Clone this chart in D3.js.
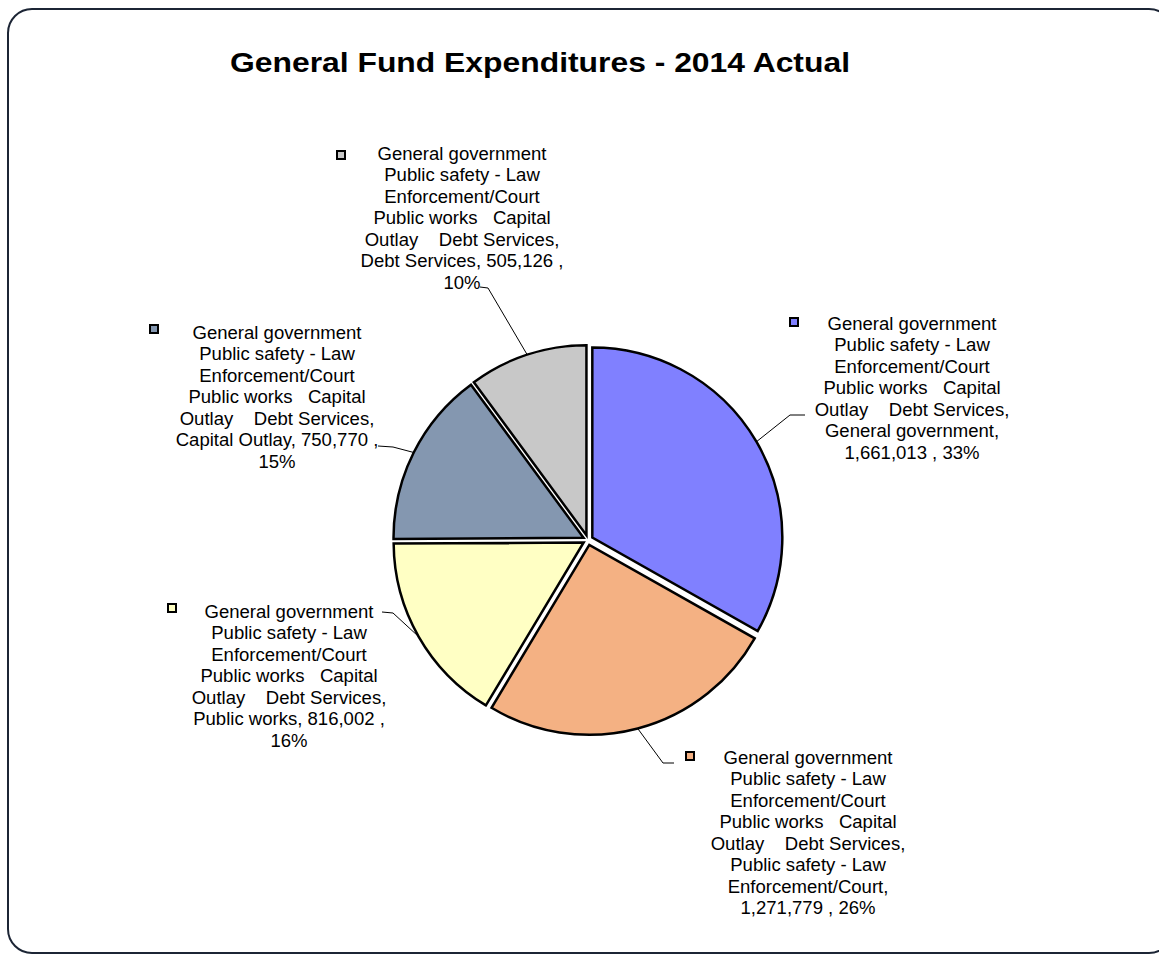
<!DOCTYPE html>
<html>
<head>
<meta charset="utf-8">
<script src="https://cdn.jsdelivr.net/npm/d3@7"></script>
<style>
  body { margin: 0; background: #fff; }
  svg text { font-family: Arial, "Liberation Sans", sans-serif; fill: #000; }
</style>
</head>
<body>
<div id="chart"></div>
<script>
// Data
const categories = ["General government", "Public safety - Law Enforcement/Court", "Public works", "Capital Outlay", "Debt Services"];
const values = [1661013, 1271779, 816002, 750770, 505126];
const percents = [33, 26, 16, 15, 10];
const colors = ["#8080ff", "#f4b183", "#ffffc4", "#8497b0", "#c8c8c8"];

// the odd "series name" that excel glued in front of every label
const seriesLines = ["General government", "Public safety - Law", "Enforcement/Court", "Public works   Capital", "Outlay    Debt Services,"];
// how each category name wraps
const nameLines = [
  ["General government,"],
  ["Public safety - Law", "Enforcement/Court,"],
  ["Public works,"],
  ["Capital Outlay,"],
  ["Debt Services,"]
];

// label layout: centre x, first baseline, legend square, leader knee + end
const labelPos = [
  { cx: 912, y: 330, mx: 790, my: 318, knee: [790, 415], end: [805, 415] },
  { cx: 808, y: 764, mx: 686, my: 752, knee: [663, 763], end: [674, 763] },
  { cx: 289, y: 618, mx: 168, my: 604, knee: [393, 613], end: [382, 612] },
  { cx: 277, y: 339, mx: 150, my: 325, knee: [393, 447], end: [378, 446] },
  { cx: 462, y: 160, mx: 337, my: 151, knee: [488, 288], end: [480, 287] }
];

const width = 1159, height = 954;
const cx = 588, cy = 540, radius = 190, explode = 5;
const fmt = d3.format(",");

const svg = d3.select("#chart").append("svg")
  .attr("width", width)
  .attr("height", height);

// outer frame (runs off the right edge)
svg.append("rect")
  .attr("x", 8).attr("y", 9)
  .attr("width", 1165).attr("height", 944)
  .attr("rx", 24)
  .attr("fill", "#fff")
  .attr("stroke", "#1c2535")
  .attr("stroke-width", 2);

// title
svg.append("text")
  .attr("x", 230).attr("y", 72)
  .attr("textLength", 620)
  .attr("lengthAdjust", "spacingAndGlyphs")
  .style("font-size", "28px")
  .style("font-weight", "bold")
  .text("General Fund Expenditures - 2014 Actual");

const pie = d3.pie().sort(null).value(d => d);
const arcs = pie(values);
const arc = d3.arc().innerRadius(0).outerRadius(radius);

const mid = d => (d.startAngle + d.endAngle) / 2;

const g = svg.append("g").attr("transform", `translate(${cx},${cy})`);

g.selectAll("path")
  .data(arcs)
  .enter()
  .append("path")
  .attr("transform", d => `translate(${explode * Math.sin(mid(d))},${-explode * Math.cos(mid(d))})`)
  .attr("d", arc)
  .attr("fill", (d, i) => colors[i])
  .attr("stroke", "#000")
  .attr("stroke-width", 2.5)
  .attr("stroke-linejoin", "miter");

// leader lines
g.selectAll("polyline")
  .data(arcs)
  .enter()
  .append("polyline")
  .attr("points", (d, i) => {
    const a = mid(d), r = radius + explode;
    const p0 = [r * Math.sin(a), -r * Math.cos(a)];
    const lp = labelPos[i];
    return [p0, [lp.knee[0] - cx, lp.knee[1] - cy], [lp.end[0] - cx, lp.end[1] - cy]].join(" ");
  })
  .attr("fill", "none")
  .attr("stroke", "#000")
  .attr("stroke-width", 1);

// data labels
const labels = svg.selectAll("g.label")
  .data(arcs)
  .enter()
  .append("g")
  .attr("class", "label");

labels.append("rect")
  .attr("x", (d, i) => labelPos[i].mx)
  .attr("y", (d, i) => labelPos[i].my)
  .attr("width", 8).attr("height", 8)
  .attr("fill", (d, i) => colors[i])
  .attr("stroke", "#000")
  .attr("stroke-width", 2);

labels.each(function (d, i) {
  const lp = labelPos[i];
  const names = nameLines[i].slice();
  const tail = fmt(values[i]) + " , " + percents[i] + "%";
  let lines;
  if (i === 0 || i === 1) {
    lines = seriesLines.concat(names, [tail]);
  } else {
    lines = seriesLines.concat([names[0] + " " + fmt(values[i]) + " ,", percents[i] + "%"]);
  }
  const t = d3.select(this).append("g")
    .attr("transform", `translate(${lp.cx},${lp.y}) scale(1.06,1)`)
    .append("text")
    .attr("text-anchor", "middle")
    .style("font-size", "17.5px")
    .style("white-space", "pre");
  t.selectAll("tspan")
    .data(lines)
    .enter()
    .append("tspan")
    .attr("x", 0)
    .attr("y", (s, k) => k * 21.5)
    .text(s => s);
});
</script>
</body>
</html>
